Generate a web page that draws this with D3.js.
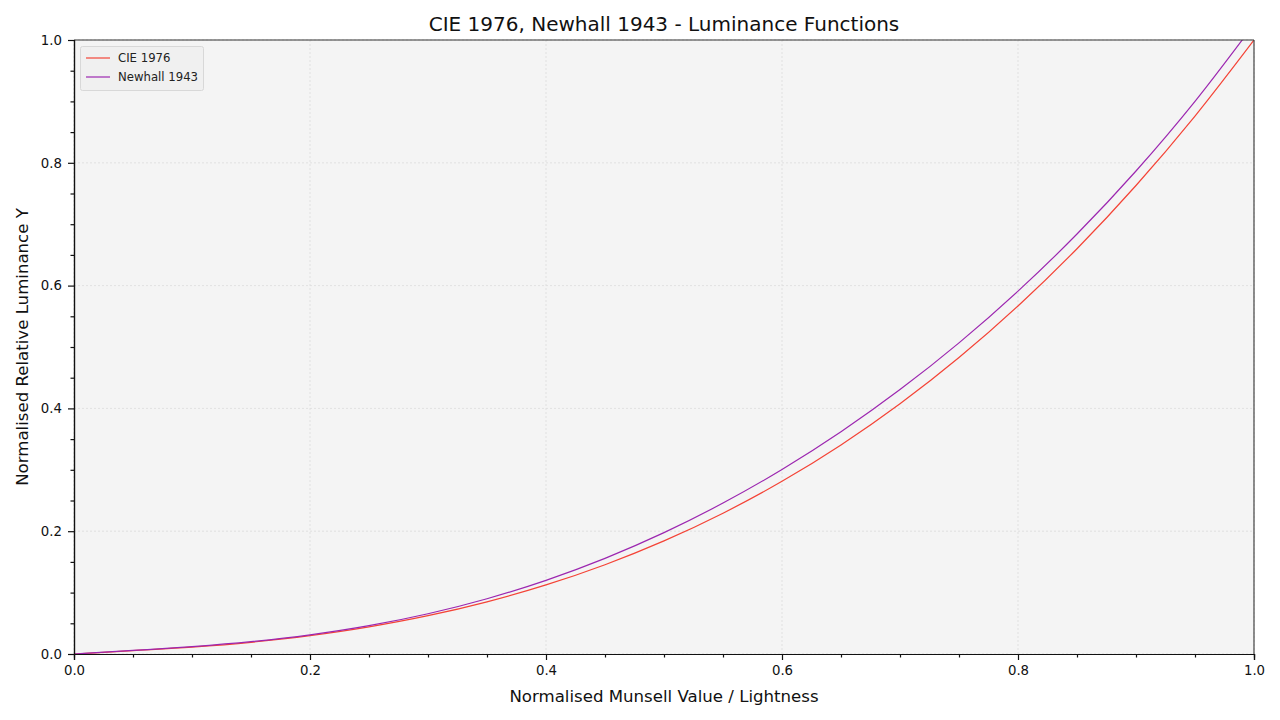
<!DOCTYPE html>
<html><head><meta charset="utf-8">
<script src="https://cdn.jsdelivr.net/npm/d3@7"></script>
<style>body{margin:0;background:#fff;font-family:"DejaVu Sans",sans-serif;}</style>
</head><body><svg id="c" width="1280" height="720"></svg>
<script>
const xValues = [0,0.05,0.10,0.15,0.20,0.25,0.30,0.35,0.40,0.45,0.50,0.55,0.60,0.65,0.70,0.75,0.80,0.85,0.90,0.95,1.00];
const cie1976 = [0,0.00554,0.01126,0.01909,0.02989,0.04416,0.06236,0.08498,0.11251,0.14542,0.18419,0.22930,0.28123,0.34047,0.40749,0.48278,0.56681,0.66007,0.76303,0.87618,1.00000];
const newhall1943 = [0,0.00582,0.01210,0.02021,0.03126,0.04614,0.06555,0.09003,0.12001,0.15580,0.19766,0.24583,0.30053,0.36202,0.43063,0.50677,0.59099,0.68398,0.78665,0.90009,1.02568];
const seriesNames = ["CIE 1976","Newhall 1943"];
const seriesColors = ["#f44336","#9c27b0"];
const majorTicks = [0,0.2,0.4,0.6,0.8,1.0];
const minorTicks = [0.05,0.1,0.15,0.25,0.3,0.35,0.45,0.5,0.55,0.65,0.7,0.75,0.85,0.9,0.95];

const svg = d3.select("#c");
const L=74,R=1254,T=40,B=654;
const x = d3.scaleLinear().domain([0,1]).range([L,R]);
const y = d3.scaleLinear().domain([0,1]).range([B,T]);

svg.append("rect").attr("x",L).attr("y",T).attr("width",R-L).attr("height",B-T).attr("fill","#f4f4f4");
svg.append("defs").append("clipPath").attr("id","clip").append("rect").attr("x",L).attr("y",T).attr("width",R-L).attr("height",B-T);

// grid
const g = svg.append("g");
majorTicks.forEach(t=>{
  g.append("line").attr("x1",x(t)).attr("x2",x(t)).attr("y1",T).attr("y2",B).attr("stroke","#dcdcdc").attr("stroke-width",0.8).attr("stroke-dasharray","2,2");
  g.append("line").attr("y1",y(t)).attr("y2",y(t)).attr("x1",L).attr("x2",R).attr("stroke","#dcdcdc").attr("stroke-width",0.8).attr("stroke-dasharray","2,2");
});

const line = d3.line().x(d=>x(d[0])).y(d=>y(d[1])).curve(d3.curveMonotoneX);
const allSeries=[cie1976,newhall1943];
const lg = svg.append("g").attr("clip-path","url(#clip)");
allSeries.forEach((s,i)=>{
  lg.append("path").attr("d",line(xValues.map((v,j)=>[v,s[j]]))).attr("fill","none").attr("stroke",seriesColors[i]).attr("stroke-width",1.2);
});

// spines
svg.append("line").attr("x1",L).attr("x2",R).attr("y1",T).attr("y2",T).attr("stroke","#333").attr("stroke-width",1.2);
svg.append("line").attr("x1",R).attr("x2",R).attr("y1",T).attr("y2",B).attr("stroke","#444").attr("stroke-width",1.2);

// axes
const xAxis = d3.axisBottom(x).tickValues(majorTicks).tickFormat(d3.format(".1f")).tickSize(6).tickPadding(6);
const yAxis = d3.axisLeft(y).tickValues(majorTicks).tickFormat(d3.format(".1f")).tickSize(6).tickPadding(6);
const xa = svg.append("g").attr("transform",`translate(0,${B})`).call(xAxis);
const ya = svg.append("g").attr("transform",`translate(${L},0)`).call(yAxis);
const xm = svg.append("g").attr("transform",`translate(0,${B})`).call(d3.axisBottom(x).tickValues(minorTicks).tickFormat("").tickSize(3.5));
const ym = svg.append("g").attr("transform",`translate(${L},0)`).call(d3.axisLeft(y).tickValues(minorTicks).tickFormat("").tickSize(3.5));
[xa,ya,xm,ym].forEach(a=>{
  a.selectAll(".domain").attr("stroke","#111").attr("stroke-width",1.2);
  a.selectAll(".tick line").attr("stroke","#111").attr("stroke-width",1.2);
  a.selectAll("text").attr("font-family","DejaVu Sans").attr("font-size",13.3).attr("fill","#111");
});

svg.append("text").attr("x",(L+R)/2).attr("y",31).attr("text-anchor","middle").attr("font-size",20).attr("fill","#111").text("CIE 1976, Newhall 1943 - Luminance Functions");
svg.append("text").attr("x",(L+R)/2).attr("y",702).attr("text-anchor","middle").attr("font-size",16.6).attr("fill","#111").text("Normalised Munsell Value / Lightness");
svg.append("text").attr("transform",`translate(28,${(T+B)/2}) rotate(-90)`).attr("text-anchor","middle").attr("font-size",16.6).attr("fill","#111").text("Normalised Relative Luminance Y");

// legend
const leg = svg.append("g");
leg.append("rect").attr("x",80.5).attr("y",46.5).attr("width",123).attr("height",44).attr("rx",2).attr("fill","#f0f0f0").attr("stroke","#d8d8d8");
seriesNames.forEach((n,i)=>{
  const yy = 58+i*19;
  leg.append("line").attr("x1",86).attr("x2",110).attr("y1",yy).attr("y2",yy).attr("stroke",seriesColors[i]).attr("stroke-width",1.2);
  leg.append("text").attr("x",118).attr("y",yy+4).attr("font-size",11.7).attr("fill","#222").text(n);
});
</script></body></html>
